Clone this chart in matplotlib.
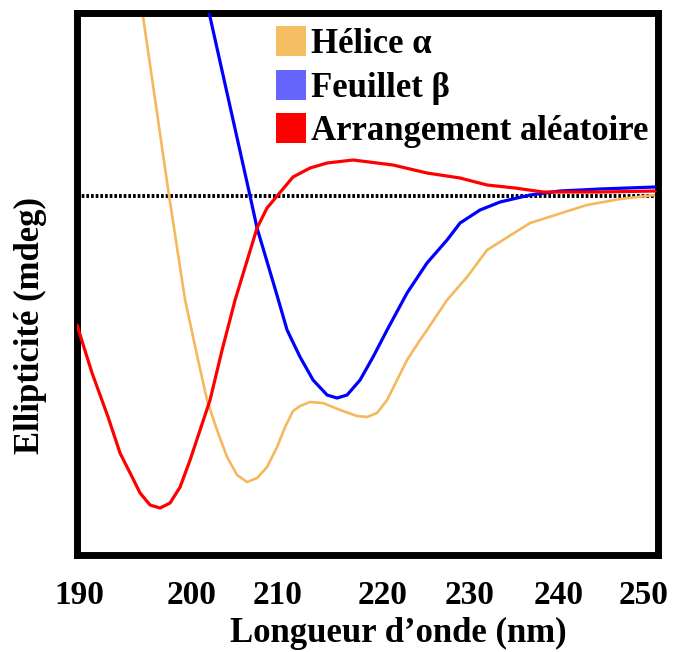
import matplotlib
matplotlib.use("Agg")
import matplotlib.pyplot as plt
from matplotlib.patches import Patch

# wavelengths (nm) and ellipticity (arbitrary mdeg)
helix_nm = [196.53, 196.80, 199.56, 201.26, 202.64, 203.59, 204.65, 205.72, 206.78,
            207.84, 208.90, 209.96, 211.03, 211.88, 212.72, 213.47, 214.53, 215.91,
            217.72, 219.52, 220.58, 221.64, 222.71, 223.77, 224.83, 226.21, 226.95,
            229.08, 231.20, 233.33, 237.89, 243.94, 247.45, 251.17]
helix_val = [19.6, 17.9, 0.0, -10.4, -16.4, -20.4, -23.4, -26.1, -27.9,
             -28.6, -28.2, -27.1, -25.1, -23.1, -21.5, -21.0, -20.6, -20.7,
             -21.4, -22.0, -22.1, -21.7, -20.4, -18.4, -16.4, -14.4, -13.4,
             -10.4, -8.1, -5.4, -2.7, -0.9, -0.3, 0.1]

sheet_nm = [203.49, 203.91, 208.16, 208.90, 210.92, 212.09, 213.47, 214.85, 216.34,
            217.40, 218.46, 219.84, 221.22, 222.71, 224.83, 226.95, 229.08, 230.46,
            232.58, 234.71, 237.89, 241.08, 245.33, 251.17]
sheet_val = [19.6, 17.9, 0.0, -3.2, -9.6, -13.4, -16.1, -18.4, -19.9,
             -20.2, -19.9, -18.4, -16.1, -13.4, -9.7, -6.7, -4.4, -2.7,
             -1.4, -0.6, 0.1, 0.5, 0.7, 0.9]

coil_nm = [189.79, 190.21, 191.38, 193.08, 194.35, 195.42, 196.48, 197.54, 198.60,
           199.66, 200.73, 201.79, 202.85, 203.91, 205.19, 206.57, 208.90, 209.96,
           211.03, 212.72, 214.53, 216.34, 219.10, 223.34, 226.95, 230.46, 233.33,
           236.30, 239.27, 245.33, 251.17]
coil_val = [-12.9, -14.2, -17.7, -22.1, -25.7, -27.7, -29.7, -30.9, -31.2,
            -30.7, -29.1, -26.4, -23.4, -20.4, -15.4, -10.4, -3.2, -1.2,
            0.0, 1.9, 2.8, 3.3, 3.6, 3.1, 2.3, 1.8, 1.1,
            0.8, 0.4, 0.4, 0.5]

tick_pos = [190, 202.0, 211.1, 222.2, 231.5, 240.9, 250]
tick_labels = ["190", "200", "210", "220", "230", "240", "250"]

labels = ["Hélice α", "Feuillet β", "Arrangement aléatoire"]
line_colors = ["#F5B95C", "#0000FF", "#FF0000"]
patch_colors = ["#F5BE62", "#6666FF", "#FF0000"]

plt.rcParams["font.family"] = ["Liberation Serif", "DejaVu Serif"]
plt.rcParams["font.weight"] = "bold"

fig = plt.figure(figsize=(6.73, 6.52), dpi=100)
ax = fig.add_axes([0.1137, 0.1495, 0.8633, 0.8298])

ax.axhline(0, color="black", lw=2.8, ls=(0, (0.7, 0.5)), zorder=1)
kw = dict(solid_joinstyle="round", solid_capstyle="round")
ax.plot(helix_nm, helix_val, color=line_colors[0], lw=1.9, zorder=2, **kw)
ax.plot(sheet_nm, sheet_val, color=line_colors[1], lw=2.3, zorder=3, **kw)
ax.plot(coil_nm, coil_val, color=line_colors[2], lw=2.3, zorder=4, **kw)

ax.set_xlim(189.73, 251.43)
ax.set_ylim(-35.85, 18.25)
ax.set_yticks([])
ax.set_xticks(tick_pos, tick_labels)
ax.tick_params(axis="x", length=0, pad=18, labelsize=24)
for s in ax.spines.values():
    s.set_linewidth(5.0)

handles = [Patch(facecolor=c, edgecolor="none") for c in patch_colors]
ax.legend(handles, labels, loc="upper left", bbox_to_anchor=(0.343, 0.976),
          frameon=False, fontsize=25, handlelength=0.86, handleheight=0.95,
          handletextpad=0.15, labelspacing=0.24, borderpad=0, borderaxespad=0)

fig.text(398 / 673, 1 - 633 / 652, "Longueur d’onde (nm)", ha="center", va="center",
         fontsize=25, fontweight="bold")
fig.text(30 / 673, 1 - 325 / 652, "Ellipticité (mdeg)", ha="center", va="center",
         rotation=90, fontsize=25, fontweight="bold")

fig.savefig("out.png", dpi=100)
